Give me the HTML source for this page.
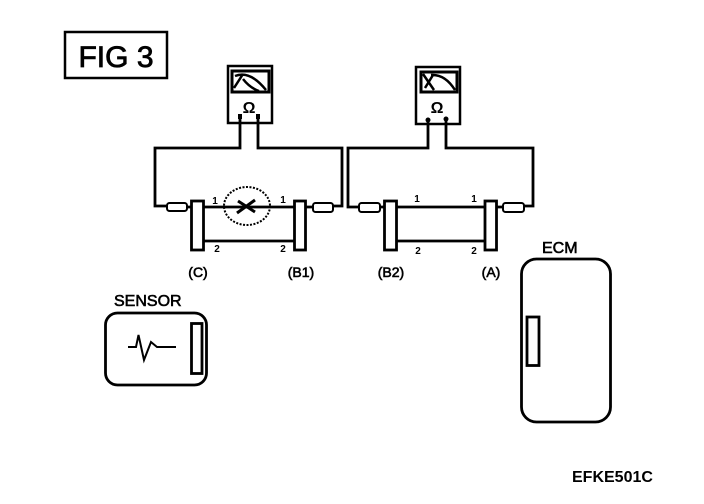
<!DOCTYPE html>
<html><head><meta charset="utf-8"><style>html,body{margin:0;padding:0;background:#fff}svg{display:block}text{font-family:"Liberation Sans",sans-serif;fill:#000}</style></head><body>
<svg width="704" height="504" viewBox="0 0 704 504" xmlns="http://www.w3.org/2000/svg">
<rect width="704" height="504" fill="#fff"/>
<g fill="none" stroke="#000" stroke-width="2">
<rect x="65" y="32" width="102" height="46" stroke-width="2.500"/>
<!-- meters -->
<rect x="228" y="66" width="44" height="57" stroke-width="2.500"/>
<rect x="232" y="71" width="37" height="21" stroke-width="3"/>
<path d="M234 88L243 74M235 76Q250 70 266 90M243 79Q250 88 259 91" stroke-width="2.500"/>
<rect x="416" y="67" width="44" height="57" stroke-width="2.500"/>
<rect x="421" y="72" width="36" height="20" stroke-width="3"/>
<path d="M423 74L434 90M425 88L433 75M431 75Q445 74 455 90" stroke-width="2.500"/>
<!-- wires left -->
<path d="M240 118V148H155V206H167M258 118V148H342V206H333M187 207H191M306 207H312" stroke-width="2.800"/>
<path d="M204 207H294M204 241H294" stroke-width="2.800"/>
<rect x="167" y="203" width="20" height="8" rx="2.500"/>
<rect x="313" y="203" width="20" height="9" rx="2.500"/>
<rect x="191.500" y="201" width="12" height="49" stroke-width="2.800"/>
<rect x="294.500" y="201" width="11" height="49" stroke-width="2.800"/>
<ellipse cx="247" cy="206" rx="23" ry="19" stroke-width="2" stroke-dasharray="2 1.500"/>
<path d="M237 213L255 200M238 201L255 212" stroke-width="3"/>
<!-- wires right -->
<path d="M428 118V148H348V207H358M446 118V148H533V206H524M381 207H384M497 207H502" stroke-width="2.800"/>
<path d="M397 207H484M397 241H484" stroke-width="2.800"/>
<rect x="359" y="203" width="21" height="9" rx="2.500"/>
<rect x="503" y="203" width="21" height="9" rx="2.500"/>
<rect x="384.500" y="201" width="12" height="49" stroke-width="2.800"/>
<rect x="485" y="201" width="11.500" height="49" stroke-width="2.800"/>
<!-- sensor -->
<rect x="105.500" y="313" width="101" height="72" rx="12" stroke-width="2.800"/>
<rect x="191.500" y="323.500" width="10.500" height="50" stroke-width="2.800"/>
<path d="M128 347H136L138.500 335L144 360L151 342L157 347H176" stroke-width="2"/>
<!-- ecm -->
<rect x="521.500" y="259" width="89" height="163" rx="15" stroke-width="2.800"/>
<rect x="527" y="317" width="12" height="48.500" stroke-width="2.800"/>
</g>
<rect x="238" y="114" width="4" height="5" fill="#000"/><rect x="256" y="114" width="4" height="5" fill="#000"/>
<circle cx="428" cy="120" r="2.500" fill="#000"/><circle cx="446" cy="119" r="2.500" fill="#000"/>
<text x="116" y="67" font-size="30" text-anchor="middle" stroke="#000" stroke-width="0.8">FIG 3</text>
<g font-weight="bold" text-anchor="middle" font-size="16">
<text x="249" y="113">Ω</text><text x="437" y="113">Ω</text>
</g>
<g font-weight="bold" text-anchor="middle" font-size="10">
<text x="215" y="204">1</text><text x="283" y="203">1</text><text x="217" y="252">2</text><text x="283" y="252">2</text>
<text x="417" y="202">1</text><text x="474" y="202">1</text><text x="418" y="254">2</text><text x="474" y="254">2</text>
</g>
<g text-anchor="middle" font-size="14" stroke="#000" stroke-width="0.6">
<text x="198" y="277">(C)</text><text x="301" y="277">(B1)</text><text x="391" y="277">(B2)</text><text x="491" y="277">(A)</text>
</g>
<g font-size="16" stroke="#000" stroke-width="0.6">
<text x="114" y="306">SENSOR</text><text x="542" y="253">ECM</text>
</g>
<text x="572" y="482" font-size="16" font-weight="bold">EFKE501C</text>
</svg>
</body></html>
